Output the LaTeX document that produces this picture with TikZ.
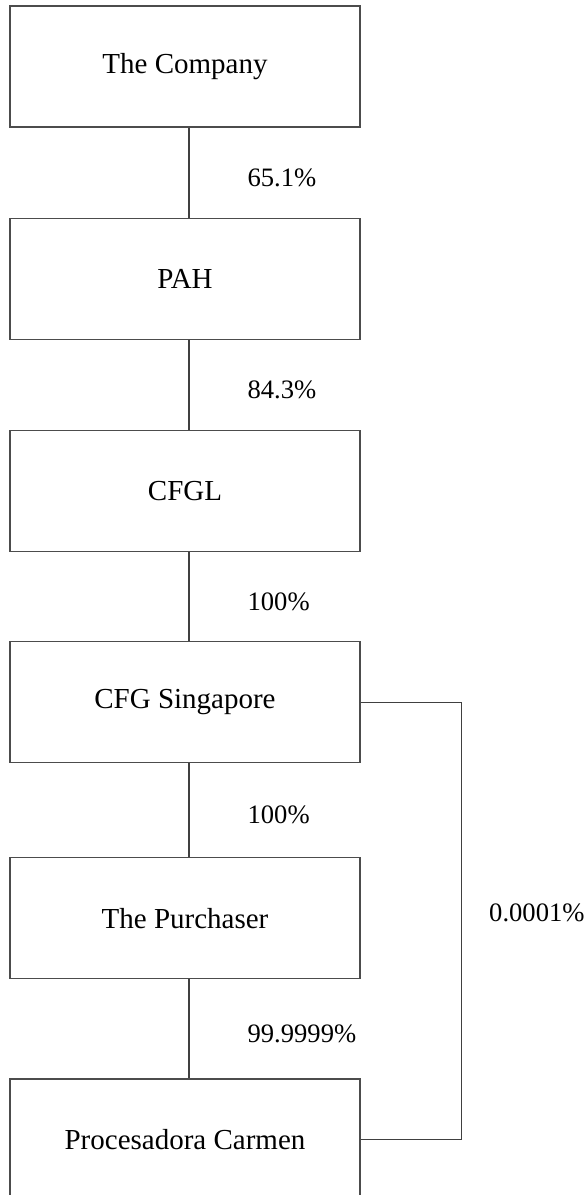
\documentclass[tikz,border=0pt]{standalone}
\usepackage{fontspec}
\setmainfont{Liberation Serif}
\usetikzlibrary{positioning}

\begin{document}
\begin{tikzpicture}[
    x=0.5pt, y=-0.5pt,
    node distance=45pt,
    entity/.style={draw=black!70, line width=0.6pt, minimum width=175pt, minimum height=60.5pt,
                   inner sep=0pt, font=\fontsize{14.5}{17}\selectfont},
    link/.style={draw=black!75, line width=0.6pt},
    pct/.style={right=29pt, yshift=-2.5pt, inner sep=0pt, font=\fontsize{13.3}{16}\selectfont},
]
\useasboundingbox (0,0) rectangle (588,1195);

\node[entity] (company) at (185,66.5) {The Company};
\node[entity, below=45pt of company] (pah) {PAH};
\node[entity, below=45pt of pah] (cfgl) {CFGL};
\node[entity, below=44.5pt of cfgl] (singapore) {CFG Singapore};
\node[entity, below=47pt of singapore] (purchaser) {The Purchaser};
\node[entity, below=49.5pt of purchaser] (carmen) {Procesadora Carmen};

\draw[link] ([xshift=2pt]company.south) -- node[pct] {65.1\%} ([xshift=2pt]pah.north);
\draw[link] ([xshift=2pt]pah.south) -- node[pct] {84.3\%} ([xshift=2pt]cfgl.north);
\draw[link] ([xshift=2pt]cfgl.south) -- node[pct] {100\%} ([xshift=2pt]singapore.north);
\draw[link] ([xshift=2pt]singapore.south) -- node[pct] {100\%} ([xshift=2pt]purchaser.north);
\draw[link] ([xshift=2pt]purchaser.south) -- node[pct] {99.9999\%} ([xshift=2pt]carmen.north);

% minority stake held directly
\draw[link] (singapore.east) -- ++(50.5pt,0) coordinate (elbow)
    |- node[pct, pos=0.25, right=13.5pt, yshift=6.5pt] {0.0001\%} (carmen.east);

\end{tikzpicture}
\end{document}
